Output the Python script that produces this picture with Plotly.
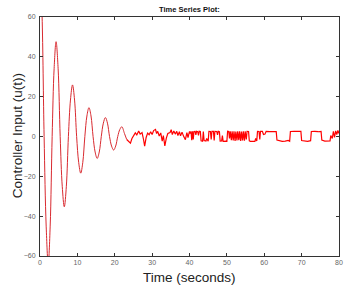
import plotly.graph_objects as go

# Damped oscillation phase (key samples)
t_osc = [0.0, 0.55, 1.1, 1.65, 2.2, 2.725, 3.25, 3.775, 4.3, 4.85, 5.4, 5.95, 6.5,
         7.05, 7.6, 8.15, 8.7, 9.25, 9.8, 10.35, 10.9, 11.45, 12.0, 12.55, 13.1,
         13.65, 14.2, 14.75, 15.3, 15.85, 16.4, 16.95, 17.5, 18.05, 18.6, 19.15,
         19.7, 20.25, 20.8, 21.35, 21.9, 22.6, 23.2]
u_osc = [88, 61, 0, -45, -64, -45, 0, 34, 47.6, 34, 0, -25, -35.3,
         -25, 0, 18.3, 25.9, 18.3, 0, -13, -18.4, -13, 0, 10.3, 14.5,
         10.3, 0, -7.8, -11, -7.8, 0, 6.7, 9.5, 6.7, 0, -4.8,
         -6.8, -4.8, 0, 3.5, 4.9, 1.5, -1.5]

# Steady-state switching phase
t_ss = [23.2, 24.2, 24.6, 25.0, 25.5, 25.9, 26.4, 26.8, 27.3, 27.7, 28.0, 28.4, 28.8,
        29.2, 29.6, 30.0, 30.4, 30.9, 31.2, 31.5, 31.9, 32.3, 32.7, 33.0, 33.4, 33.8,
        34.2, 34.8, 35.1, 35.4, 35.8, 36.2, 36.6, 36.9, 37.3, 37.6, 38.0, 38.4, 38.9,
        39.3, 39.6, 40.0,
        40.2, 40.4, 40.6, 40.8, 41.0, 41.2, 41.5, 41.7, 41.9, 42.2, 42.4, 42.6, 42.9,
        43.1, 43.5, 43.7, 43.9, 44.4, 44.6, 45.0, 45.2, 45.6, 45.8, 46.0, 46.4, 46.6,
        46.8, 47.3, 47.5, 47.7, 48.0, 48.2, 48.6, 48.8, 49.0, 49.8, 50.0, 50.2, 50.5,
        50.7, 50.9, 51.2, 51.4, 51.7, 51.9, 52.2, 52.4, 52.7, 52.9, 53.2, 53.4, 53.7,
        53.9, 54.2, 54.4, 54.7, 54.9, 55.2, 55.4, 55.8, 56.0, 56.3, 57.0, 57.5, 57.7,
        58.0, 58.2, 58.6, 58.8, 59.0, 59.5, 59.8,
        60.2, 60.5, 61.5, 62.3, 63.2, 63.4, 64.0, 64.8, 65.6, 66.4, 66.8, 67.0, 68.0,
        69.0, 69.8, 70.0, 70.8, 71.6, 72.4, 72.6, 73.5, 74.4, 75.2, 75.4, 76.2, 77.0,
        77.6, 77.8, 78.2, 78.5, 78.8, 79.1, 79.4, 79.7, 80.0]
u_ss = [-1.5, -3.3, -1.0, 0.3, 1.8, 0.8, 2.8, 1.2, 2.0, -1.5, -4.8, -0.5, 1.7,
        0.9, 2.4, 1.0, 3.0, 3.6, 1.5, 2.6, 0.2, 1.8, -2.3, 0.5, -4.7, -0.8,
        1.5, 2.0, 3.4, 1.0, 2.8, 1.2, 2.6, 0.5, 2.4, 0.3, 2.2, 0.2, -1.6,
        2.0, -0.5, 2.6,
        1.5, 2.6, -1.8, 2.6, -1.5, 2.5, 2.6, 0.8, 2.6, 2.4, 0.5, 2.6, 2.5,
        -2.2, -2.4, 2.5, -2.0, -2.3, -1.0, -2.3, 2.6, 2.5, -1.5, 2.6, 2.6, -2.0,
        2.6, 2.5, 0.8, 2.6, 2.4, -2.3, -2.2, 0.5, -2.4, -2.3, -2.4, 2.6, 2.5,
        -1.0, 2.6, -1.8, 2.6, -2.0, 2.6, -2.2, 2.5, -2.0, 2.6, -1.8, 2.6, -2.2,
        2.5, -2.0, 2.6, -2.1, 2.6, -1.5, 2.6, 2.5, -2.2, -2.4, -2.3, -2.4, -1.0,
        -2.2, 2.6, 2.5, -1.5, 2.6, 2.6, 1.0,
        1.2, 2.6, 2.4, 2.6, 2.5, -1.8, -2.2, -2.4, -2.3, -2.0, -2.4, 2.5, 2.6,
        2.4, 2.6, -2.0, -2.3, -2.4, -2.1, 2.5, 2.6, 2.4, 2.6, -1.8, -2.3, -2.4,
        -2.2, 0.5, -1.0, 2.6, -0.5, 2.8, 1.0, 3.0, 1.5]

x_ticks = [0, 10, 20, 30, 40, 50, 60, 70, 80]
y_ticks = [-60, -40, -20, 0, 20, 40, 60]

fig = go.Figure()
fig.add_trace(go.Scatter(x=t_osc, y=u_osc, mode="lines",
                         line=dict(color="#d92a30", width=1, shape="spline", smoothing=1.0),
                         hoverinfo="skip"))
fig.add_trace(go.Scatter(x=t_ss, y=u_ss, mode="lines",
                         line=dict(color="#ff0000", width=1.2),
                         hoverinfo="skip"))

axis_common = dict(showgrid=False, zeroline=False, showline=True, linecolor="#333333",
                   linewidth=1, ticks="inside", ticklen=3, tickcolor="#333333",
                   mirror="ticks", tickfont=dict(family="Liberation Sans, Arial", size=7, color="#666666"))

fig.update_xaxes(range=[0, 80], tickvals=x_ticks, **axis_common)
fig.update_yaxes(range=[-60, 60], tickvals=y_ticks, ticklabelstandoff=2, **axis_common)

fig.update_layout(
    width=352, height=290,
    margin=dict(l=40, r=9, t=17, b=34),
    paper_bgcolor="white", plot_bgcolor="white",
    showlegend=False,
    font=dict(family="Liberation Sans, Arial"),
    annotations=[
        dict(text="<b>Time Series Plot:</b>", xref="paper", yref="paper",
             x=0.5, y=1.033, showarrow=False, font=dict(size=7.5, color="#111111"),
             xanchor="center", yanchor="middle"),
        dict(text="Time (seconds)", xref="paper", yref="paper",
             x=0.5, y=-0.088, showarrow=False, font=dict(size=13.5, color="#222222"),
             xanchor="center", yanchor="middle"),
        dict(text="Controller Input (u(t))", xref="paper", yref="paper",
             x=-0.076, y=0.502, showarrow=False, textangle=-90,
             font=dict(size=13.5, color="#222222"),
             xanchor="center", yanchor="middle"),
    ],
)

fig.write_html("out.html")
